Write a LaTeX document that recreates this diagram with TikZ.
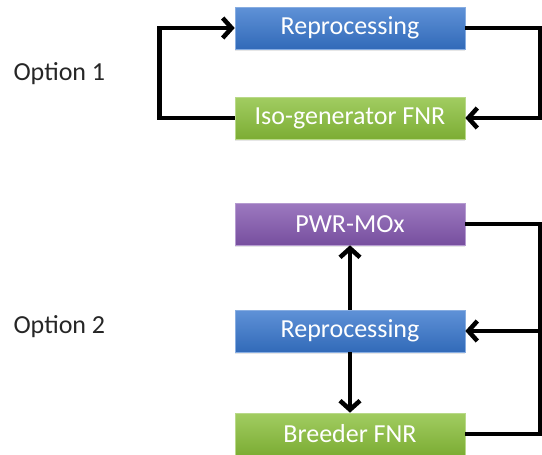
\documentclass[tikz,border=0pt]{standalone}
\usepackage{fontspec}
\setmainfont{Carlito}
\usetikzlibrary{arrows.meta,shadows}
\definecolor{boxblue}{RGB}{55, 118, 205}
\definecolor{boxgreen}{RGB}{138, 192, 58}
\definecolor{boxpurple}{RGB}{132, 88, 176}

\tikzset{
    stage/.style={minimum width=230pt, minimum height=42pt, inner sep=0pt,
                  text=white, font=\fontsize{26}{28}\selectfont,
                  drop shadow={opacity=0.2, shadow xshift=0pt, shadow yshift=-2pt}},
    bluebox/.style={stage, top color=boxblue!80!white, bottom color=boxblue!90!black, draw=boxblue!60!white, line width=0.6pt},
    greenbox/.style={stage, top color=boxgreen!80!white, bottom color=boxgreen!90!black, draw=boxgreen!60!white, line width=0.6pt},
    purplebox/.style={stage, top color=boxpurple!80!white, bottom color=boxpurple!90!black, draw=boxpurple!60!white, line width=0.6pt},
    flow/.style={line width=4.5pt, line join=miter},
    arr/.style={flow, -{Straight Barb[length=9pt, width=20pt, line width=4.5pt]}},
    option/.style={font=\fontsize{26}{28}\selectfont, text=black!85, anchor=west},
}

\begin{document}
\begin{tikzpicture}[x=1pt, y=-1pt]
    \useasboundingbox (0,0) rectangle (542,455);

    % Option 1: closed loop
    \node[option] (opt1) at (10,74) {Option 1};
    \node[bluebox]  (rep1) at (350,28)  {Reprocessing};
    \node[greenbox] (iso)  at (350,118) {Iso-generator FNR};

    \draw[arr] (iso.west) -- ++(-75,0) |- (rep1.west);
    \draw[arr] (rep1.east) -- ++(75,0) |- (iso.east);

    % Option 2: reprocessing feeds MOx and breeder
    \node[option] (opt2) at (10,327) {Option 2};
    \node[purplebox] (pwr)     at (350,224) {PWR-MOx};
    \node[bluebox]   (rep2)    at (350,331) {Reprocessing};
    \node[greenbox]  (breeder) at (350,434) {Breeder FNR};

    \draw[arr] (rep2.north) -- (pwr.south);
    \draw[arr] (rep2.south) -- (breeder.north);
    \draw[flow] (pwr.east) -- ++(75,0) |- (breeder.east);
    \coordinate (back) at (540,331);
    \draw[arr] (back) -- (rep2.east);
\end{tikzpicture}
\end{document}
